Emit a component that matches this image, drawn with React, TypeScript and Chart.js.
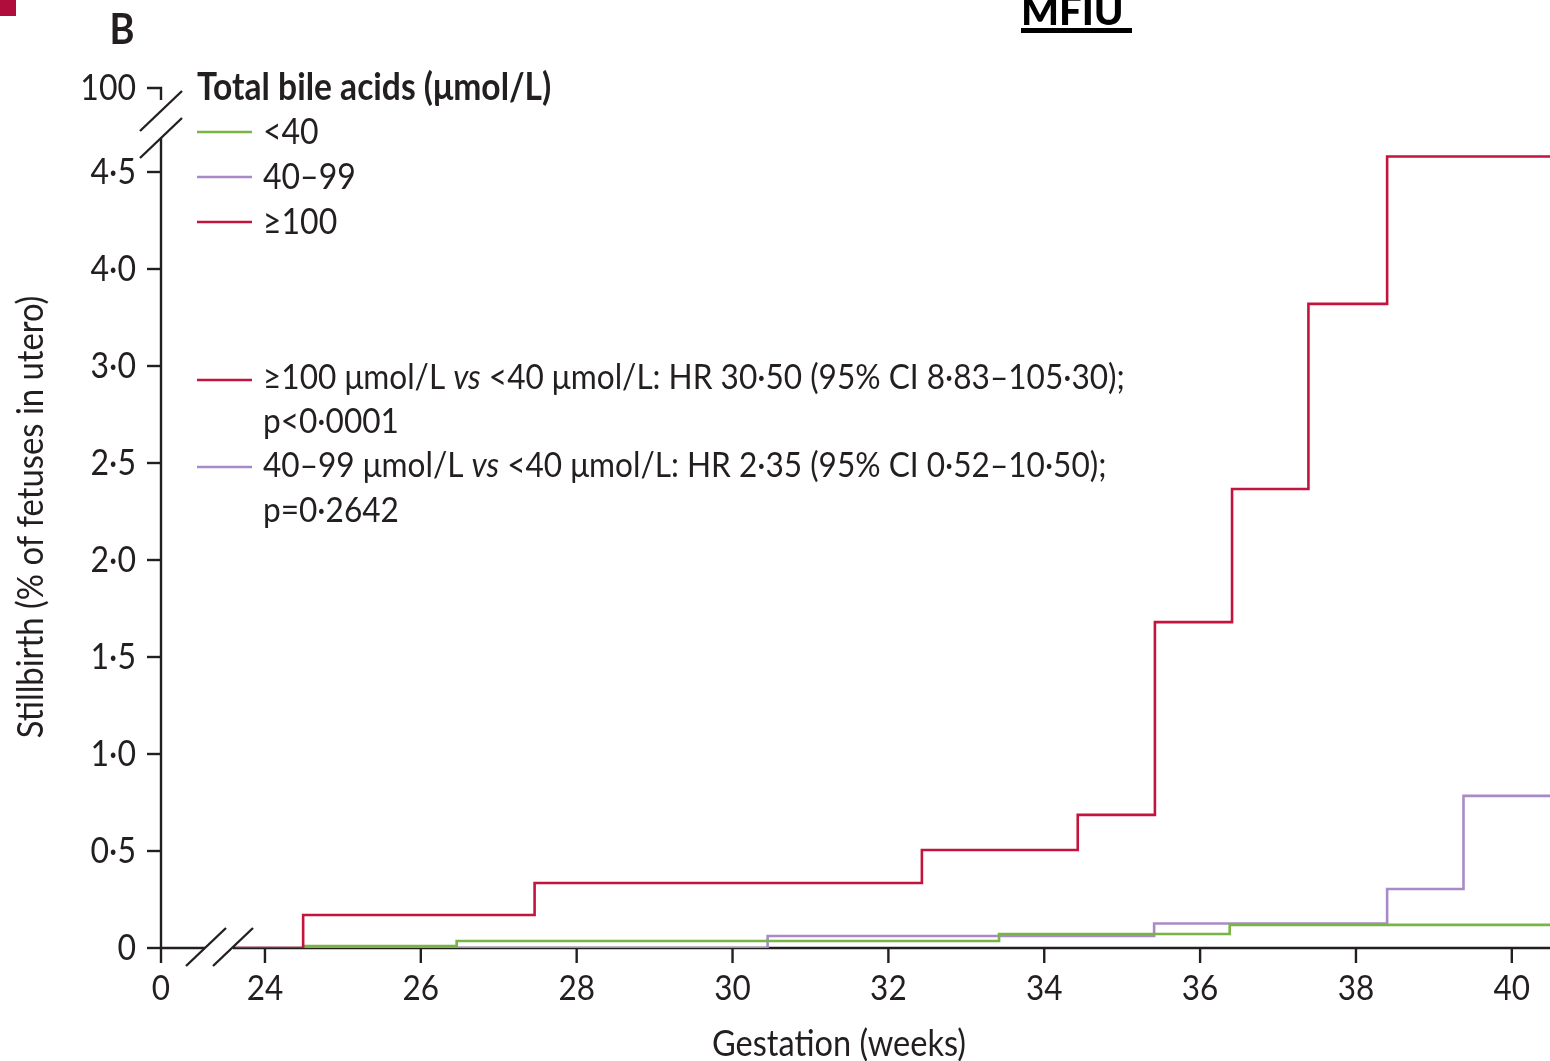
import React, { useEffect, useRef } from "react";
import { Chart, registerables } from "chart.js";

Chart.register(...registerables);

const FONT = "Lato, 'Open Sans', sans-serif";
const INK = "#231f20";
const RED = "#c3143e";
const GREEN = "#79b545";
const PURPLE = "#a98ac8";

// x axis: gestation (weeks); axis broken between 0 and 24
const xAxisMin = 22.666; // where the "0" tick sits after the break
const xAxisMax = 40.49;
const xTickValues = [22.666, 24, 26, 28, 30, 32, 34, 36, 38, 40];
const xTickLabels = ["0", "24", "26", "28", "30", "32", "34", "36", "38", "40"];

// y axis: stillbirth (% of fetuses in utero); axis broken below 100
const yAxisMax = 4.433;
const yTickValues = [0, 0.5, 1, 1.5, 2, 2.5, 3, 3.5, 4, 4.433];
const yTickLabels = ["0", "0·5", "1·0", "1·5", "2·0", "2·5", "3·0", "4·0", "4·5", "100"];

// Kaplan–Meier steps: ≥100 µmol/L
const redWeeks = [23.62, 24.49, 27.46, 32.43, 34.43, 35.42, 36.41, 37.39, 38.4, 40.49];
const redValues = [0, 0.17, 0.335, 0.505, 0.686, 1.68, 2.366, 3.32, 4.08, 4.08];

// 40–99 µmol/L
const purpleWeeks = [24.49, 30.45, 35.41, 38.4, 39.38, 40.49];
const purpleValues = [0, 0.062, 0.126, 0.304, 0.784, 0.784];

// <40 µmol/L
const greenWeeks = [24.49, 26.46, 33.42, 36.38, 40.49];
const greenValues = [0.01, 0.036, 0.072, 0.119, 0.119];

const legendLabels = ["<40", "40–99", "≥100"];
const legendTitle = "Total bile acids (μmol/L)";

type Seg = { t: string; italic?: boolean };
const annotationRed: Seg[][] = [
  [{ t: "≥100 μmol/L " }, { t: "vs", italic: true }, { t: " <40 μmol/L: HR 30·50 (95% CI 8·83–105·30);" }],
  [{ t: "p<0·0001" }],
];
const annotationPurple: Seg[][] = [
  [{ t: "40–99 μmol/L " }, { t: "vs", italic: true }, { t: " <40 μmol/L: HR 2·35 (95% CI 0·52–10·50);" }],
  [{ t: "p=0·2642" }],
];

const xTitle = "Gestation (weeks)";
const yTitle = "Stillbirth (% of fetuses in utero)";
const panelLabel = "B";
const topTitle = "MFIU";

function toPoints(xs: number[], ys: number[]) {
  return xs.map((x, i) => ({ x, y: ys[i] }));
}

function seg(ctx: CanvasRenderingContext2D, x1: number, y1: number, x2: number, y2: number) {
  ctx.beginPath();
  ctx.moveTo(x1, y1);
  ctx.lineTo(x2, y2);
  ctx.stroke();
}

function text(
  ctx: CanvasRenderingContext2D,
  s: string,
  x: number,
  y: number,
  size: number,
  opts: { weight?: string; align?: CanvasTextAlign; italic?: boolean; sy?: number } = {}
) {
  ctx.save();
  ctx.font = `${opts.italic ? "italic " : ""}${opts.weight || "normal"} ${size}px ${FONT}`;
  ctx.textAlign = opts.align || "left";
  ctx.textBaseline = "middle";
  ctx.fillStyle = INK;
  ctx.translate(x, y);
  ctx.scale(1, opts.sy || 1);
  ctx.fillText(s, 0, 0);
  ctx.restore();
}

function richLine(ctx: CanvasRenderingContext2D, segs: Seg[], x: number, y: number, size: number, sy: number) {
  let cx = x;
  for (const s of segs) {
    text(ctx, s.t, cx, y, size, { italic: s.italic, sy });
    ctx.font = `${s.italic ? "italic " : ""}normal ${size}px ${FONT}`;
    cx += ctx.measureText(s.t).width;
  }
}

const decorPlugin = {
  id: "decor",
  beforeDatasetsDraw(chart: any) {
    const { ctx, chartArea: a, scales } = chart;
    const xs = scales.x;
    const ys = scales.y;
    const x0 = a.left;
    const y0 = a.bottom;
    ctx.save();
    ctx.strokeStyle = INK;
    ctx.lineWidth = 2.4;
    ctx.lineCap = "butt";
    // x axis with break
    seg(ctx, x0 - 1, y0, x0 + 44, y0);
    seg(ctx, x0 + 72, y0, a.right, y0);
    seg(ctx, x0 + 25, y0 + 18, x0 + 65, y0 - 20);
    seg(ctx, x0 + 52, y0 + 18, x0 + 92, y0 - 20);
    // y axis with break
    seg(ctx, x0, y0 + 1, x0, a.top + 50);
    seg(ctx, x0 - 21, a.top + 43, x0 + 21, a.top + 3);
    seg(ctx, x0 - 21, a.top + 70, x0 + 21, a.top + 30);
    ctx.beginPath();
    ctx.moveTo(x0 - 14, a.top);
    ctx.lineTo(x0, a.top);
    ctx.lineTo(x0, a.top + 12);
    ctx.stroke();
    // ticks
    xTickValues.forEach((v) => {
      const px = xs.getPixelForValue(v);
      seg(ctx, px, y0, px, y0 + 15);
    });
    yTickValues.forEach((v, i) => {
      if (i === yTickValues.length - 1) return;
      const py = ys.getPixelForValue(v);
      seg(ctx, x0 - 14, py, x0, py);
    });
    ctx.restore();
  },
  afterDraw(chart: any) {
    const { ctx, chartArea: a, scales } = chart;
    const xs = scales.x;
    const ys = scales.y;
    const sy = 1.12;
    ctx.save();
    // tick labels
    xTickValues.forEach((v, i) => {
      text(ctx, xTickLabels[i], xs.getPixelForValue(v), a.bottom + 41, 31.5, { align: "center", sy });
    });
    yTickValues.forEach((v, i) => {
      text(ctx, yTickLabels[i], 136, ys.getPixelForValue(v), 32, { align: "right", sy });
    });
    // axis titles
    text(ctx, xTitle, 839, 1044, 32.6, { align: "center", sy });
    ctx.save();
    ctx.translate(31, 517);
    ctx.rotate(-Math.PI / 2);
    text(ctx, yTitle, 0, 0, 32.8, { align: "center", sy });
    ctx.restore();
    // legend
    text(ctx, legendTitle, 197, 88, 33.6, { weight: "bold", sy });
    const cols = [GREEN, PURPLE, RED];
    legendLabels.forEach((l, i) => {
      const y = 132 + i * 45;
      ctx.strokeStyle = cols[i];
      ctx.lineWidth = 2.4;
      seg(ctx, 197, y, 252, y);
      text(ctx, l, 263, y, 32, { sy });
    });
    // annotations
    ctx.lineWidth = 2.4;
    ctx.strokeStyle = RED;
    seg(ctx, 197, 380, 252, 380);
    richLine(ctx, annotationRed[0], 263, 378, 31.6, sy);
    richLine(ctx, annotationRed[1], 263, 422, 31.6, sy);
    ctx.strokeStyle = PURPLE;
    seg(ctx, 197, 467, 252, 467);
    richLine(ctx, annotationPurple[0], 263, 466, 31.6, sy);
    richLine(ctx, annotationPurple[1], 263, 511, 31.6, sy);
    // panel label and top title
    text(ctx, panelLabel, 122, 30, 38, { weight: "bold", align: "center", sy });
    ctx.save();
    ctx.font = `900 40px ${FONT}`;
    ctx.fillStyle = "#000";
    ctx.textAlign = "left";
    ctx.textBaseline = "alphabetic";
    ctx.fillText(topTitle, 1021, 25);
    ctx.fillRect(1021, 28, 111, 5);
    ctx.restore();
    ctx.fillStyle = "#b00c3c";
    ctx.fillRect(0, 0, 16, 16);
    ctx.restore();
  },
};

export default function App() {
  const ref = useRef<HTMLCanvasElement | null>(null);
  useEffect(() => {
    if (!ref.current) return;
    const ds = (label: string, xs: number[], ys: number[], color: string, order: number) => ({
      label,
      data: toPoints(xs, ys),
      borderColor: color,
      backgroundColor: color,
      borderWidth: 2.6,
      stepped: "before" as const,
      pointRadius: 0,
      fill: false,
      order,
    });
    const chart = new Chart(ref.current, {
      type: "line",
      data: {
        datasets: [
          ds("≥100", redWeeks, redValues, RED, 0),
          ds("<40", greenWeeks, greenValues, GREEN, 1),
          ds("40–99", purpleWeeks, purpleValues, PURPLE, 2),
        ],
      },
      options: {
        responsive: false,
        animation: false,
        layout: { padding: { left: 161, top: 88, right: 0, bottom: 113 } },
        scales: {
          x: { type: "linear", min: xAxisMin, max: xAxisMax, display: false },
          y: { type: "linear", min: 0, max: yAxisMax, display: false },
        },
        plugins: { legend: { display: false }, tooltip: { enabled: false } },
      },
      plugins: [decorPlugin],
    });
    return () => chart.destroy();
  }, []);
  return (
    <div style={{ position: "absolute", left: 0, top: 0, width: 1550, height: 1061, background: "#fff" }}>
      <canvas ref={ref} width={1550} height={1061} style={{ width: 1550, height: 1061, display: "block" }} />
    </div>
  );
}
